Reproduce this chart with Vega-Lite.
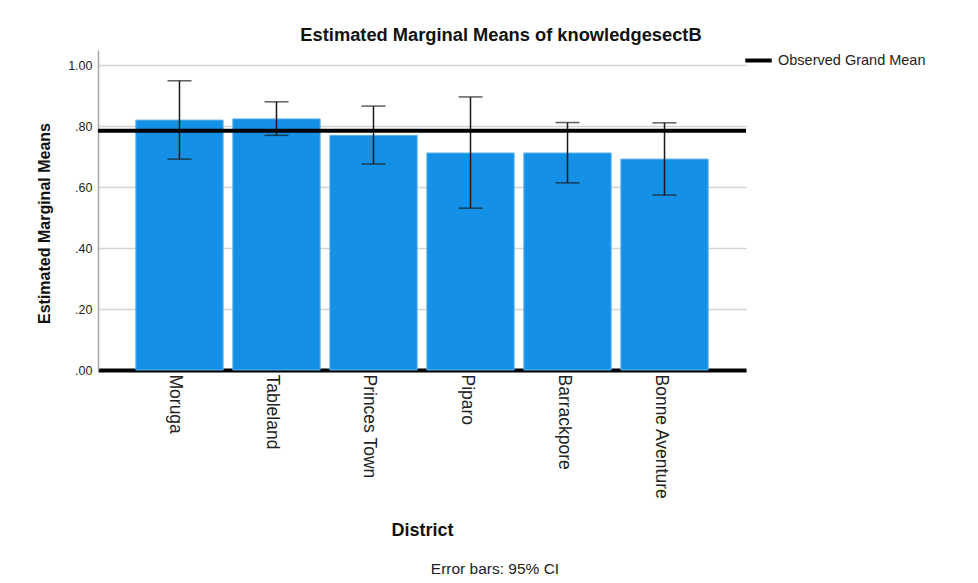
{
  "$schema": "https://vega.github.io/schema/vega-lite/v6.json",
  "background": "white",
  "padding": {"left": 36, "top": 25, "right": 5, "bottom": 5},
  "config": {
    "font": "Liberation Sans",
    "view": {"stroke": null},
    "concat": {"spacing": 0}
  },
  "title": {
    "text": "Error bars: 95% CI",
    "orient": "bottom",
    "anchor": "middle",
    "frame": "group",
    "fontSize": 15.5,
    "fontWeight": "normal",
    "color": "#222222",
    "dx": 73,
    "offset": 23
  },
  "vconcat": [
    {
      "width": 648,
      "height": 320,
      "title": {
        "text": "Estimated Marginal Means of knowledgesectB",
        "fontSize": 18.3,
        "fontWeight": "bold",
        "anchor": "middle",
        "frame": "group",
        "dx": 79,
        "offset": 5,
        "color": "#111111"
      },
      "data": {
        "values": [
          {"District": "Moruga", "mean": 0.820, "lower": 0.692, "upper": 0.949},
          {"District": "Tableland", "mean": 0.824, "lower": 0.770, "upper": 0.880},
          {"District": "Princes Town", "mean": 0.770, "lower": 0.676, "upper": 0.866},
          {"District": "Piparo", "mean": 0.712, "lower": 0.531, "upper": 0.896},
          {"District": "Barrackpore", "mean": 0.712, "lower": 0.614, "upper": 0.812},
          {"District": "Bonne Aventure", "mean": 0.692, "lower": 0.574, "upper": 0.811}
        ]
      },
      "layer": [
        {
          "mark": {"type": "bar", "fill": "#1490E6", "stroke": "#5eb0ee", "strokeWidth": 1},
          "encoding": {
            "x": {
              "field": "District",
              "type": "nominal",
              "sort": null,
              "scale": {"paddingInner": 0.1, "paddingOuter": 0.39},
              "axis": {
                "title": "District",
                "labelAngle": 90,
                "labelFontSize": 17.5,
                "labelColor": "#222222",
                "labelPadding": 4,
                "labelOffset": -4,
                "ticks": false,
                "grid": false,
                "domainColor": "#000000",
                "domainWidth": 4,
                "titleFontSize": 18,
                "titleFontWeight": "bold",
                "titleColor": "#111111",
                "titleY": 165,
                "titleBaseline": "alphabetic"
              }
            },
            "y": {
              "field": "mean",
              "type": "quantitative",
              "scale": {"domain": [0, 1.05], "nice": false},
              "axis": {
                "title": "Estimated Marginal Means",
                "values": [0, 0.2, 0.4, 0.6, 0.8, 1],
                "labelExpr": "datum.value >= 1 ? format(datum.value, '.2f') : substring(format(datum.value, '.2f'), 1)",
                "ticks": false,
                "labelPadding": 6,
                "labelFontSize": 12.5,
                "labelColor": "#222222",
                "grid": true,
                "gridColor": "#d4d4d4",
                "gridWidth": 1.5,
                "domainColor": "#a6a6a6",
                "domainWidth": 1.5,
                "titleFontSize": 16,
                "titleFontWeight": "bold",
                "titleColor": "#111111",
                "titleX": -49,
                "titleY": 173,
                "titleAngle": -90,
                "titleAlign": "center",
                "titleBaseline": "alphabetic"
              }
            }
          }
        },
        {
          "mark": {"type": "rule", "stroke": "#1a1a1a", "strokeWidth": 1.5},
          "encoding": {
            "x": {"field": "District", "type": "nominal", "sort": null},
            "y": {"field": "lower", "type": "quantitative"},
            "y2": {"field": "upper"}
          }
        },
        {
          "mark": {"type": "tick", "size": 24, "thickness": 1.5, "color": "#1a1a1a"},
          "encoding": {
            "x": {"field": "District", "type": "nominal", "sort": null},
            "y": {"field": "lower", "type": "quantitative"}
          }
        },
        {
          "mark": {"type": "tick", "size": 24, "thickness": 1.5, "color": "#1a1a1a"},
          "encoding": {
            "x": {"field": "District", "type": "nominal", "sort": null},
            "y": {"field": "upper", "type": "quantitative"}
          }
        },
        {
          "data": {"values": [{"label": "Observed Grand Mean", "grand": 0.785}]},
          "mark": {"type": "rule", "strokeWidth": 4},
          "encoding": {
            "y": {"field": "grand", "type": "quantitative"},
            "color": {
              "field": "label",
              "type": "nominal",
              "scale": {"range": ["#000000"]},
              "legend": {
                "title": null,
                "orient": "none",
                "legendX": 645,
                "legendY": -5,
                "padding": 0,
                "symbolType": "stroke",
                "symbolSize": 700,
                "symbolStrokeWidth": 4,
                "labelFontSize": 14.5,
                "labelColor": "#222222",
                "labelOffset": 4
              }
            }
          }
        }
      ]
    }
  ]
}
